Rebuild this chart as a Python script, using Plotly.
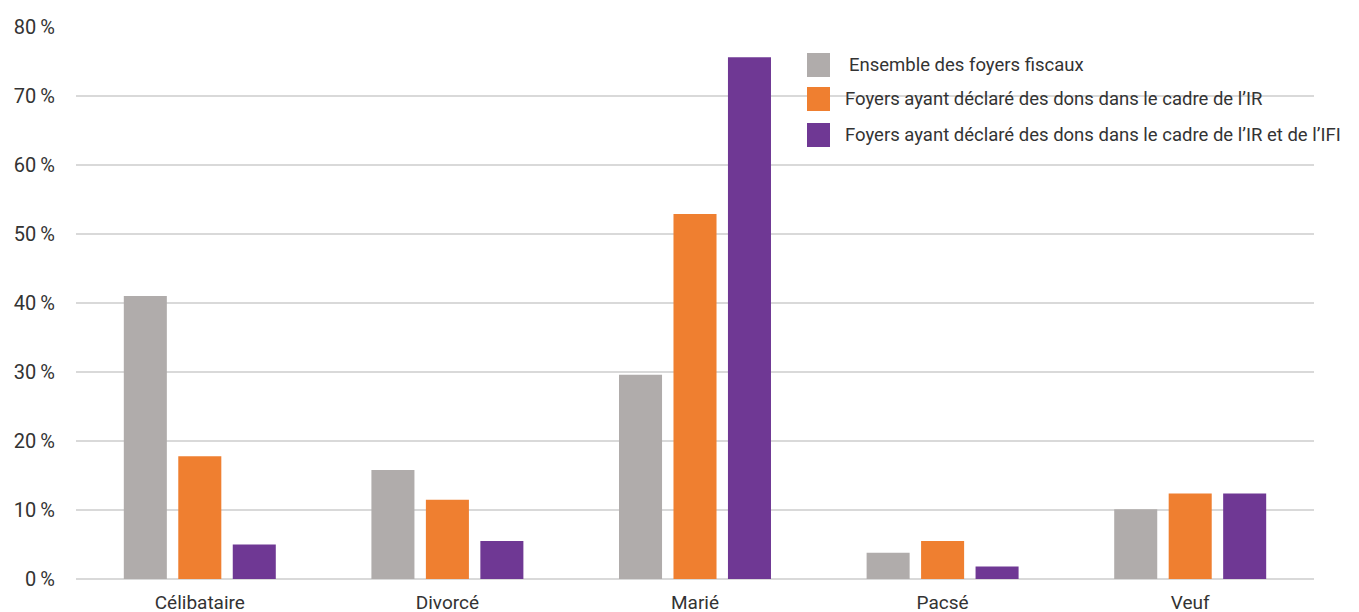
import plotly.graph_objects as go

categories = ["Célibataire", "Divorcé", "Marié", "Pacsé", "Veuf"]
series_names = [
    "Ensemble des foyers fiscaux",
    "Foyers ayant déclaré des dons dans le cadre de l’IR",
    "Foyers ayant déclaré des dons dans le cadre de l’IR et de l’IFI",
]
ensemble = [41.0, 15.8, 29.6, 3.8, 10.1]
dons_ir = [17.8, 11.5, 52.9, 5.5, 12.4]
dons_ir_ifi = [5.0, 5.5, 75.6, 1.8, 12.4]
series_values = [ensemble, dons_ir, dons_ir_ifi]
colors = ["#b0acab", "#ef7f30", "#6f3894"]
y_ticks = [0, 10, 20, 30, 40, 50, 60, 70, 80]

FONT = "Roboto"
TXT = "#333333"

fig = go.Figure()
for name, vals, col in zip(series_names, series_values, colors):
    fig.add_trace(go.Bar(x=categories, y=vals, name=name, marker_color=col,
                         marker_line_width=0, showlegend=False))

# page body margin shifts the figure by 8px; work in screen pixels
OFF = 8
L, R, T, B = 76 - OFF, 1314 - OFF, 27 - OFF, 579 - OFF
W, H = R - L, B - T
def px(x):
    return (x - OFF - L) / W
def py(y):
    return (B - (y - OFF)) / H

legend_rows = [65, 99, 135]
shapes = []
annotations = []
for i, (name, col) in enumerate(zip(series_names, colors)):
    cy = legend_rows[i]
    shapes.append(dict(type="rect", xref="paper", yref="paper",
                       x0=px(807), x1=px(830), y0=py(cy - 12), y1=py(cy + 12),
                       fillcolor=col, line_width=0))
    annotations.append(dict(xref="paper", yref="paper", x=px(843 + (4 if i == 0 else 0)), y=py(cy),
                            text=name, showarrow=False, xanchor="left", yanchor="middle",
                            font=dict(family=FONT, size=18.5, color=TXT)))

fig.update_layout(
    width=1359, height=612,
    margin=dict(l=L, r=1359 - R, t=T, b=612 - B),
    plot_bgcolor="white", paper_bgcolor="white",
    barmode="group", bargap=0.34, bargroupgap=0.21,
    font=dict(family=FONT, size=16, color=TXT),
    shapes=shapes, annotations=annotations,
    xaxis=dict(showgrid=False, showline=False, ticks="", ticklabelstandoff=10,
               automargin=False,
               tickfont=dict(family=FONT, size=19, color=TXT)),
    yaxis=dict(range=[0, 80], tickvals=y_ticks,
               ticktext=[f"{v}\u2009%" for v in y_ticks],
               showgrid=True, gridcolor="#d9d9d9", gridwidth=1.5,
               zeroline=True, zerolinecolor="#d9d9d9", zerolinewidth=1.5,
               showline=False, ticks="", ticklabelstandoff=20,
               automargin=False,
               tickfont=dict(family=FONT, size=20, color=TXT)),
)

fig.write_html("out.html")
